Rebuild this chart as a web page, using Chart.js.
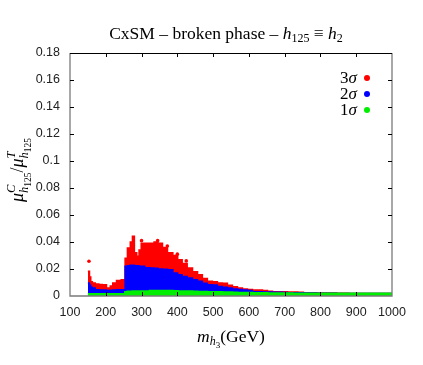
<!DOCTYPE html>
<html>
<head>
<meta charset="utf-8">
<script src="https://cdn.jsdelivr.net/npm/chart.js@4/dist/chart.umd.min.js"></script>
<style>
  body { margin: 0; background: #fff; }
  #box { width: 423px; height: 365px; }
</style>
</head>
<body>
<div id="box"><canvas id="scan" width="423" height="365"></canvas></div>
<script>
// m_h3 values (GeV) where the upper edge of each band was read
const mass = [150, 153, 156, 160, 165, 176, 185, 195, 209, 216, 223, 237, 249, 252, 256, 265, 272, 277, 283, 290,
  296, 302, 316, 330, 340, 352, 365, 380, 395, 407, 420, 435, 450, 463, 477, 491, 505, 519, 533, 547,
  561, 575, 589, 603, 617, 631, 645, 659, 673, 687, 701, 715, 729, 745, 760, 780, 800, 830, 860, 900, 950, 1000];

// 3 sigma (red) upper edge
const sigma3 = [0.0183, 0.0183, 0.014, 0.0105, 0.0096, 0.0089, 0.0085, 0.0084, 0.0059, 0.0075, 0.0096, 0.0114, 0.012, 0.012, 0.028, 0.0356, 0.040, 0.0442, 0.032, 0.0294,
  0.034, 0.039, 0.039, 0.039, 0.040, 0.039, 0.036, 0.032, 0.030, 0.0269, 0.024, 0.0207, 0.018, 0.0158, 0.013, 0.0109, 0.0106, 0.0096, 0.0094, 0.008,
  0.0069, 0.006, 0.0052, 0.0048, 0.0044, 0.0044, 0.004, 0.0036, 0.0032, 0.0032, 0.0032, 0.003, 0.003, 0.0028, 0.0025, 0.0025, 0.0022, 0.0022, 0.002, 0.0018, 0.0018, 0.0018];

// 2 sigma (blue) upper edge
const sigma2 = [0.0096, 0.0096, 0.008, 0.0065, 0.0059, 0.0047, 0.0045, 0.0044, 0.004, 0.0042, 0.0045, 0.0047, 0.0047, 0.0047, 0.022, 0.0225, 0.0227, 0.0227, 0.0225, 0.0225,
  0.022, 0.022, 0.021, 0.0207, 0.0205, 0.020, 0.0198, 0.0195, 0.017, 0.0158, 0.0145, 0.0133, 0.012, 0.0109, 0.0095, 0.0084, 0.0081, 0.007, 0.0065, 0.006,
  0.0052, 0.0048, 0.0044, 0.004, 0.0032, 0.0032, 0.003, 0.003, 0.0028, 0.0027, 0.0026, 0.0025, 0.0025, 0.0024, 0.0023, 0.0022, 0.0021, 0.002, 0.0018, 0.0018, 0.0018, 0.0018];

// 1 sigma (green) upper edge
const sigma1 = [0.0015, 0.0015, 0.0015, 0.0015, 0.0015, 0.0015, 0.0015, 0.0015, 0.0015, 0.0015, 0.0015, 0.0015, 0.0015, 0.0015, 0.003, 0.0033, 0.0034, 0.0035, 0.0035, 0.0035,
  0.0035, 0.0035, 0.0036, 0.0038, 0.0038, 0.0038, 0.0038, 0.0038, 0.0037, 0.0036, 0.0036, 0.0035, 0.0033, 0.0032, 0.0031, 0.003, 0.003, 0.0029, 0.0028, 0.0027,
  0.0026, 0.0025, 0.0024, 0.0024, 0.0023, 0.0022, 0.0022, 0.0021, 0.0021, 0.002, 0.002, 0.002, 0.0019, 0.0019, 0.0018, 0.0018, 0.0018, 0.0018, 0.0018, 0.0018, 0.0018, 0.0018];

// a few isolated 3 sigma points above the band
const strayMass = [153, 300, 345, 372, 400, 425];
const strayVal = [0.0257, 0.041, 0.041, 0.037, 0.031, 0.026];

const xTicks = [100, 200, 300, 400, 500, 600, 700, 800, 900, 1000];
const yTicks = [0, 0.02, 0.04, 0.06, 0.08, 0.1, 0.12, 0.14, 0.16, 0.18];

const RED = '#ff0000', BLUE = '#0000ff', GREEN = '#00ee00';
const SERIF = '"Liberation Serif", "DejaVu Serif", serif';
const SANS = '"Liberation Sans", Arial, sans-serif';

function pts(ys) {
  return mass.map((m, i) => ({x: m, y: ys[i]}));
}

// draws a row of text pieces (sub/superscripts, italics)
function drawRich(ctx, parts, x, y, align) {
  let w = 0;
  const widths = parts.map(p => {
    ctx.font = (p.i ? 'italic ' : '') + p.s + 'px ' + SERIF;
    const pw = ctx.measureText(p.t).width;
    if (!p.keep) w += pw;
    return pw;
  });
  let cx = align === 'center' ? x - w / 2 : x;
  ctx.textBaseline = 'alphabetic';
  ctx.textAlign = 'left';
  parts.forEach((p, k) => {
    ctx.font = (p.i ? 'italic ' : '') + p.s + 'px ' + SERIF;
    ctx.fillText(p.t, cx, y + (p.dy || 0));
    if (!p.keep) cx += widths[k];
  });
}

const decor = {
  id: 'decor',
  afterDraw(chart) {
    const ctx = chart.ctx;
    const a = chart.chartArea;
    const xs = chart.scales.x, ys = chart.scales.y;
    ctx.save();
    ctx.fillStyle = '#000';

    // title
    drawRich(ctx, [
      {t: 'CxSM – broken phase – ', s: 17.5},
      {t: 'h', s: 17.5, i: 1}, {t: '125', s: 12, dy: 3},
      {t: ' ≡ ', s: 17.5},
      {t: 'h', s: 17.5, i: 1}, {t: '2', s: 12, dy: 3}
    ], 226, 39, 'center');

    // x title
    drawRich(ctx, [
      {t: 'm', s: 17.5, i: 1}, {t: 'h', s: 12, i: 1, dy: 3}, {t: '3', s: 9, dy: 6},
      {t: '(GeV)', s: 17.5}
    ], 231, 342, 'center');

    // y title
    ctx.save();
    ctx.translate(23, 170);
    ctx.rotate(-Math.PI / 2);
    drawRich(ctx, [
      {t: 'μ', s: 18, i: 1}, {t: 'C', s: 12.5, i: 1, dy: -8, keep: 1},
      {t: 'h', s: 12.5, i: 1, dy: 5}, {t: '125', s: 9.5, dy: 8},
      {t: '/', s: 18},
      {t: 'μ', s: 18, i: 1}, {t: 'T', s: 12.5, i: 1, dy: -8, keep: 1},
      {t: 'h', s: 12.5, i: 1, dy: 5}, {t: '125', s: 9.5, dy: 8}
    ], 0, 0, 'center');
    ctx.restore();

    // legend
    const leg = [['3', RED, 78], ['2', BLUE, 94], ['1', GREEN, 110]];
    leg.forEach(([n, c, ly]) => {
      ctx.fillStyle = '#000';
      ctx.font = '17px ' + SERIF;
      const w1 = ctx.measureText(n).width;
      ctx.font = 'italic 17px ' + SERIF;
      const w2 = ctx.measureText('σ').width;
      drawRich(ctx, [{t: n, s: 17}, {t: 'σ', s: 17, i: 1}], 357 - w1 - w2, ly + 5, 'left');
      ctx.fillStyle = c;
      ctx.beginPath();
      ctx.arc(367, ly, 3, 0, Math.PI * 2);
      ctx.fill();
    });

    // frame
    ctx.lineWidth = 1.3;
    ctx.strokeStyle = '#7a7a7a';
    ctx.beginPath();
    ctx.moveTo(a.left, a.top);
    ctx.lineTo(a.left, a.bottom);
    ctx.lineTo(a.right, a.bottom);
    ctx.lineTo(a.right, a.top);
    ctx.stroke();
    ctx.strokeStyle = '#000';
    ctx.lineWidth = 1;
    ctx.beginPath();
    ctx.moveTo(a.left, a.top + 0.5);
    ctx.lineTo(a.right, a.top + 0.5);
    ctx.stroke();

    // inward ticks
    ctx.strokeStyle = '#000';
    ctx.lineWidth = 1;
    ctx.beginPath();
    xTicks.slice(1, -1).forEach(v => {
      const px = Math.round(xs.getPixelForValue(v)) + 0.5;
      ctx.moveTo(px, a.bottom); ctx.lineTo(px, a.bottom - 4);
      ctx.moveTo(px, a.top); ctx.lineTo(px, a.top + 4);
    });
    yTicks.slice(1, -1).forEach(v => {
      const py = Math.round(ys.getPixelForValue(v)) + 0.5;
      ctx.moveTo(a.left, py); ctx.lineTo(a.left + 4, py);
      ctx.moveTo(a.right, py); ctx.lineTo(a.right - 4, py);
    });
    ctx.stroke();
    ctx.restore();
  }
};

const chart = new Chart(document.getElementById('scan').getContext('2d'), {
  type: 'line',
  data: {
    datasets: [
      {
        label: '1σ', data: pts(sigma1), borderColor: GREEN, backgroundColor: GREEN, stepped: 'middle',
        borderWidth: 2, pointRadius: 0, fill: 'origin', clip: {left: 0, top: 0, right: 0, bottom: 2}
      },
      {
        label: '2σ', data: pts(sigma2), borderColor: BLUE, backgroundColor: BLUE, stepped: 'middle',
        borderWidth: 1.5, pointRadius: 0, fill: 'origin'
      },
      {
        label: '3σ stray', data: strayMass.map((m, i) => ({x: m, y: strayVal[i]})),
        showLine: false, pointRadius: 1.8, pointBackgroundColor: RED, pointBorderWidth: 0
      },
      {
        label: '3σ', data: pts(sigma3), borderColor: RED, backgroundColor: RED, stepped: 'middle',
        borderWidth: 1.5, pointRadius: 0, fill: 'origin'
      }
    ]
  },
  options: {
    responsive: false,
    animation: false,
    layout: {padding: {top: 53, right: 31, left: 0, bottom: 0}},
    plugins: {legend: {display: false}, tooltip: {enabled: false}, title: {display: false}},
    scales: {
      x: {
        type: 'linear', min: 100, max: 1000,
        grid: {display: false, drawTicks: false},
        border: {display: false},
        afterFit: s => { s.height = 69; },
        afterBuildTicks: s => { s.ticks = xTicks.map(v => ({value: v})); },
        ticks: {
          padding: 9, color: '#222', maxRotation: 0, font: {family: SANS, size: 12.5},
          callback: v => String(v)
        }
      },
      y: {
        min: 0, max: 0.18,
        grid: {display: false, drawTicks: false},
        border: {display: false},
        afterFit: s => { s.width = 70; },
        afterBuildTicks: s => { s.ticks = yTicks.map(v => ({value: v})); },
        ticks: {
          padding: 10, color: '#222',
          font: {family: SANS, size: 12.5},
          callback: v => String(+v.toFixed(2))
        }
      }
    }
  },
  plugins: [decor]
});
</script>
</body>
</html>
